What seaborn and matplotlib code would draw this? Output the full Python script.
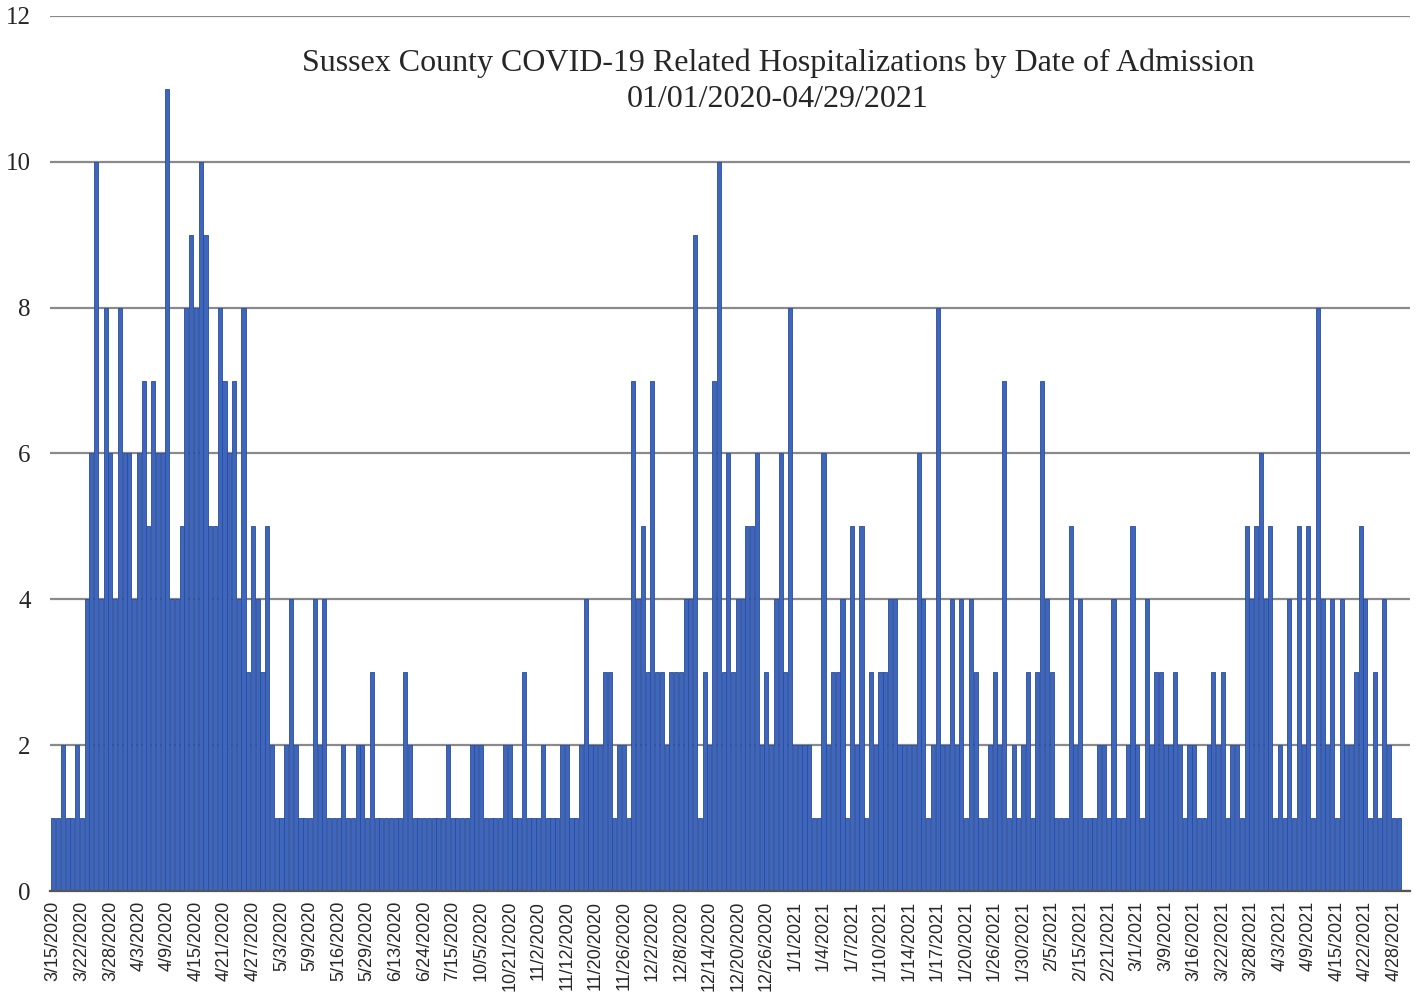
import matplotlib

matplotlib.use("Agg")
import matplotlib.pyplot as plt
import numpy as np
import pandas as pd
import seaborn as sns

# Госпитализации по дням (дни без госпитализаций пропущены)
admissions = [
    1, 1, 2, 1, 1, 2, 1, 4, 6, 10, 4, 8, 6, 4, 8, 6, 6, 4, 6, 7, 5, 7, 6,
    6, 11, 4, 4, 5, 8, 9, 8, 10, 9, 5, 5, 8, 7, 6, 7, 4, 8, 3, 5, 4, 3, 5, 2,
    1, 1, 2, 4, 2, 1, 1, 1, 4, 2, 4, 1, 1, 1, 2, 1, 1, 2, 2, 1, 3, 1, 1, 1,
    1, 1, 1, 3, 2, 1, 1, 1, 1, 1, 1, 1, 2, 1, 1, 1, 1, 2, 2, 2, 1, 1, 1, 1,
    2, 2, 1, 1, 3, 1, 1, 1, 2, 1, 1, 1, 2, 2, 1, 1, 2, 4, 2, 2, 2, 3, 3, 1,
    2, 2, 1, 7, 4, 5, 3, 7, 3, 3, 2, 3, 3, 3, 4, 4, 9, 1, 3, 2, 7, 10, 3, 6, 3,
    4, 4, 5, 5, 6, 2, 3, 2, 4, 6, 3, 8, 2, 2, 2, 2, 1, 1, 6, 2, 3, 3, 4, 1,
    5, 2, 5, 1, 3, 2, 3, 3, 4, 4, 2, 2, 2, 2, 6, 4, 1, 2, 8, 2, 2, 4, 2, 4,
    1, 4, 3, 1, 1, 2, 3, 2, 7, 1, 2, 1, 2, 3, 1, 3, 7, 4, 3, 1, 1, 1, 5, 2, 4,
    1, 1, 1, 2, 2, 1, 4, 1, 1, 2, 5, 2, 1, 4, 2, 3, 3, 2, 2, 3, 2, 1, 2, 2,
    1, 1, 2, 3, 2, 3, 1, 2, 2, 1, 5, 4, 5, 6, 4, 5, 1, 2, 1, 4, 1, 5, 2, 5,
    1, 8, 4, 2, 4, 1, 4, 2, 2, 3, 5, 4, 1, 3, 1, 4, 2, 1, 1,
]

# Подписи оси X (каждый шестой столбец)
date_labels = [
    "3/15/2020", "3/22/2020", "3/28/2020", "4/3/2020", "4/9/2020", "4/15/2020",
    "4/21/2020", "4/27/2020", "5/3/2020", "5/9/2020", "5/16/2020", "5/29/2020",
    "6/13/2020", "6/24/2020", "7/15/2020", "10/5/2020", "10/21/2020", "11/2/2020",
    "11/12/2020", "11/20/2020", "11/26/2020", "12/2/2020", "12/8/2020", "12/14/2020",
    "12/20/2020", "12/26/2020", "1/1/2021", "1/4/2021", "1/7/2021", "1/10/2021",
    "1/14/2021", "1/17/2021", "1/20/2021", "1/26/2021", "1/30/2021", "2/5/2021",
    "2/15/2021", "2/21/2021", "3/1/2021", "3/9/2021", "3/16/2021", "3/22/2021",
    "3/28/2021", "4/3/2021", "4/9/2021", "4/15/2021", "4/22/2021", "4/28/2021",
]
label_step = 6

title = ("Sussex County COVID-19 Related Hospitalizations by Date of Admission\n"
         "01/01/2020-04/29/2021")

sns.set_style("white")
plt.rcParams["font.family"] = ["Liberation Serif", "DejaVu Serif"]

df = pd.DataFrame({"bar": np.arange(len(admissions)), "count": admissions})

fig = plt.figure(figsize=(14.2, 9.97), dpi=100)
ax = fig.add_axes([50 / 1420, 1 - 891 / 997, 1360 / 1420, (891 - 16) / 997])

ax.yaxis.grid(True, color="#8a8a8a", linewidth=1.6)
ax.set_axisbelow(True)

sns.barplot(data=df, x="bar", y="count", color="#3f66bd", saturation=1,
            width=0.86, edgecolor="#2a4c9a", linewidth=0.6, ax=ax)

ax.set_xlim(-0.7, -0.7 + 1360 / 4.754)
ax.set_ylim(0, 12)
ax.set_yticks(range(0, 13, 2))
ax.tick_params(axis="y", length=0, pad=14, labelsize=18)

ax.set_xticks(range(0, len(admissions), label_step)[:len(date_labels)])
ax.set_xticklabels(date_labels, rotation=90, fontsize=13,
                   family=["Liberation Sans", "DejaVu Sans"])
ax.tick_params(axis="x", length=0, pad=7)

ax.set_xlabel("")
ax.set_ylabel("")
for side in ["top", "right", "left"]:
    ax.spines[side].set_visible(False)
ax.spines["bottom"].set_color("#555555")
ax.spines["bottom"].set_linewidth(1.6)

fig.text(778 / 1420, 1 - 48 / 997, title, ha="center", va="top",
         fontsize=23, linespacing=1.32)

fig.savefig("out.png", dpi=100)
